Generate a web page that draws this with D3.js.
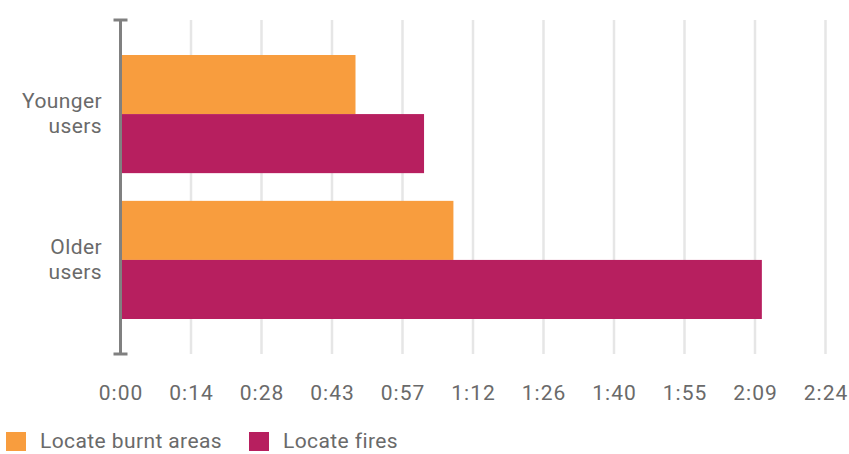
<!DOCTYPE html>
<html><head><meta charset="utf-8">
<script src="https://cdn.jsdelivr.net/npm/d3@7"></script>
<style>body{margin:0;background:#fff}text{font-family:Roboto,"Open Sans",sans-serif}</style>
</head><body><svg id="c" width="849" height="454"></svg>
<script>
const categories = [["Younger","users"],["Older","users"]];
const seriesNames = ["Locate burnt areas","Locate fires"];
const burntAreas = [48, 68];   // seconds
const fires = [62, 131];       // seconds
const tickLabels = ["0:00","0:14","0:28","0:43","0:57","1:12","1:26","1:40","1:55","2:09","2:24"];
const colors = ["#f89d3e","#b71f5f"];

const svg = d3.select("#c");
const x0 = 120.5, x1 = 825.5, yTop = 20, yBot = 354;
const FONT = 21, TXT = "#6a6a6a";
const x = d3.scaleLinear().domain([0,144]).range([x0,x1]);
const tickVals = tickLabels.map((d,i)=>i*14.4);
const y = d3.scaleBand().domain(d3.range(categories.length)).range([yTop,yBot]).paddingInner(0.19).paddingOuter(0.24);
const ys = d3.scaleBand().domain([0,1]).range([0,y.bandwidth()]);

// gridlines
svg.append("g").selectAll("line").data(tickVals.slice(1)).join("line")
  .attr("x1",d=>x(d)).attr("x2",d=>x(d)).attr("y1",yTop).attr("y2",yBot)
  .attr("stroke","#e6e6e6").attr("stroke-width",2.5);

// bars
const data = [burntAreas, fires];
const g = svg.append("g");
categories.forEach((c,i)=>{
  data.forEach((s,j)=>{
    g.append("rect").attr("x",x(0)).attr("y",y(i)+ys(j))
     .attr("width",x(s[i])-x(0)).attr("height",ys.bandwidth()).attr("fill",colors[j]);
  });
});

// y axis
const yAxis = svg.append("g");
yAxis.append("line").attr("x1",x0).attr("x2",x0).attr("y1",yTop).attr("y2",yBot)
  .attr("stroke","#808080").attr("stroke-width",3);
[yTop,yBot].forEach(v=>yAxis.append("line").attr("x1",x0-7).attr("x2",x0+7).attr("y1",v).attr("y2",v)
  .attr("stroke","#808080").attr("stroke-width",3));
categories.forEach((c,i)=>{
  const cy = y(i)+y.bandwidth()/2;
  const t = svg.append("text").attr("text-anchor","end").attr("fill",TXT).attr("font-size",FONT).attr("letter-spacing",0.4);
  c.forEach((line,k)=>t.append("tspan").attr("x",102).attr("y",cy-6+k*25).text(line));
});

// x axis labels
const xAxis = d3.axisBottom(x).tickValues(tickVals).tickFormat((d,i)=>tickLabels[i]).tickSize(0).tickPadding(0);
const xg = svg.append("g").attr("transform",`translate(0,${yBot+31})`).call(xAxis);
xg.select(".domain").remove();
xg.selectAll("text").attr("font-size",FONT).attr("fill",TXT).attr("letter-spacing",1)
  .attr("font-family","Roboto,'Open Sans',sans-serif");

// legend
const legX = [6, 249];
seriesNames.forEach((n,i)=>{
  svg.append("rect").attr("x",legX[i]).attr("y",432).attr("width",20).attr("height",19).attr("fill",colors[i]);
  svg.append("text").attr("x",legX[i]+34).attr("y",448).attr("font-size",FONT).attr("letter-spacing",0.4).attr("fill",TXT).text(n);
});
</script></body></html>
